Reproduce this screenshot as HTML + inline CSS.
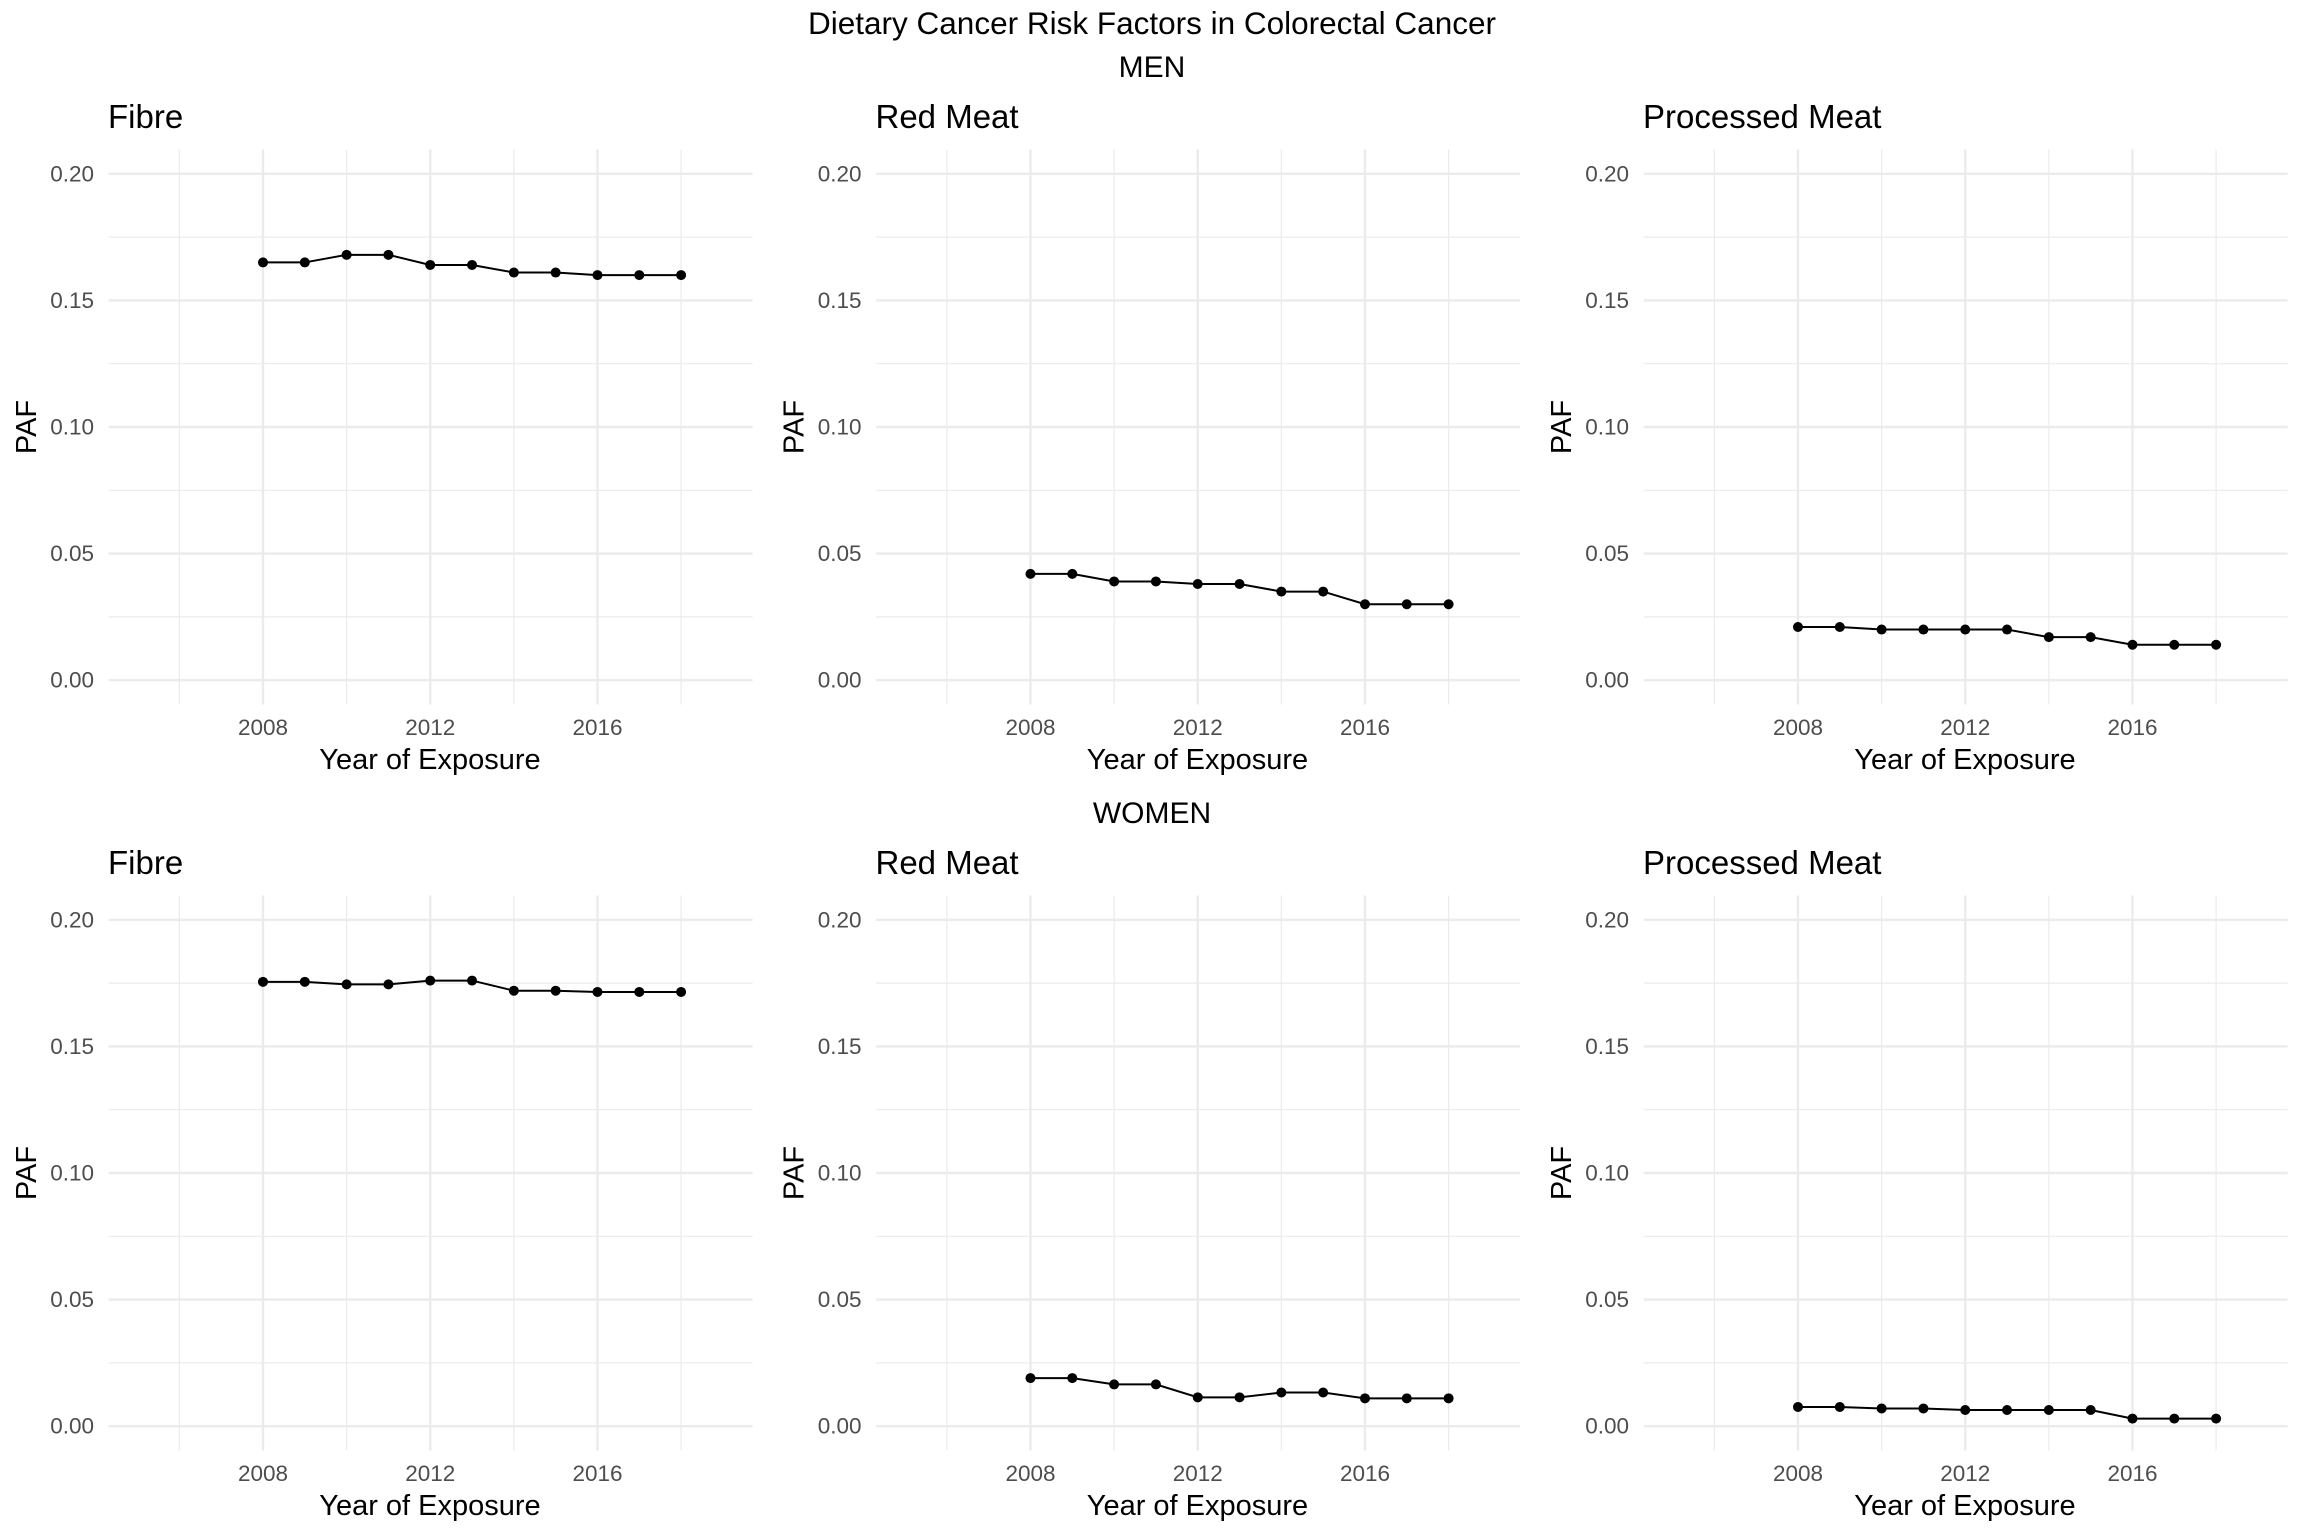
<!DOCTYPE html>
<html><head><meta charset="utf-8"><style>
html,body{margin:0;padding:0;background:#fff;}
svg{display:block;font-family:"Liberation Sans",Arial,sans-serif;}
</style></head><body>
<svg id="chart" width="2304" height="1536" viewBox="0 0 2304 1536" xmlns="http://www.w3.org/2000/svg">
<rect width="2304" height="1536" fill="#fff"/>
<text x="1152" y="34" font-size="31.5" text-anchor="middle" fill="#000">Dietary Cancer Risk Factors in Colorectal Cancer</text>
<text x="1152" y="77" font-size="30" text-anchor="middle" fill="#000">MEN</text>
<text x="1152" y="823" font-size="30" text-anchor="middle" fill="#000">WOMEN</text>
<g id="panels"></g>
</svg>
<script>
const years = [2008,2009,2010,2011,2012,2013,2014,2015,2016,2017,2018];
const panelTitles = ["Fibre","Red Meat","Processed Meat"];
const menFibre = [0.165,0.165,0.168,0.168,0.164,0.164,0.161,0.161,0.160,0.160,0.160];
const menRedMeat = [0.042,0.042,0.039,0.039,0.038,0.038,0.035,0.035,0.030,0.030,0.030];
const menProcessedMeat = [0.021,0.021,0.020,0.020,0.020,0.020,0.017,0.017,0.014,0.014,0.014];
const womenFibre = [0.1755,0.1755,0.1745,0.1745,0.176,0.176,0.172,0.172,0.1715,0.1715,0.1715];
const womenRedMeat = [0.019,0.019,0.0165,0.0165,0.0114,0.0114,0.0133,0.0133,0.011,0.011,0.011];
const womenProcessedMeat = [0.0076,0.0076,0.007,0.007,0.0064,0.0064,0.0064,0.0064,0.003,0.003,0.003];
const yTicks = [0,0.05,0.10,0.15,0.20];
const yTickLabels = ["0.00","0.05","0.10","0.15","0.20"];
const yMinor = [0.025,0.075,0.125,0.175];
const xTicks = [2008,2012,2016];
const xMinor = [2006,2010,2014,2018];

const series = [[menFibre,menRedMeat,menProcessedMeat],[womenFibre,womenRedMeat,womenProcessedMeat]];
const NS="http://www.w3.org/2000/svg";
const root=document.getElementById('panels');
function mk(tag,attrs,parent){const e=document.createElementNS(NS,tag);for(const k in attrs)e.setAttribute(k,attrs[k]);parent.appendChild(e);return e;}
const colOff=[0,767.5,1535], rowOff=[0,746];
const PL=108.7, PR=752.6, PT=149.5, PB=704.5;
const xMin=2004.31, xMax=2019.71, yMin=-0.0096, yMax=0.2096;
const sexNames=["men","women"];
for(let r=0;r<2;r++)for(let c=0;c<3;c++){
  const ox=colOff[c], oy=rowOff[r];
  const X=v=>ox+PL+(v-xMin)/(xMax-xMin)*(PR-PL);
  const Y=v=>oy+PB-(v-yMin)/(yMax-yMin)*(PB-PT);
  const g=mk('g',{},root);
  
  
  yMinor.forEach(v=>mk('line',{x1:ox+PL,x2:ox+PR,y1:Y(v),y2:Y(v),stroke:'#ebebeb','stroke-width':1.2},g));
  xMinor.forEach(v=>mk('line',{x1:X(v),x2:X(v),y1:oy+PT,y2:oy+PB,stroke:'#ebebeb','stroke-width':1.2},g));
  yTicks.forEach(v=>mk('line',{x1:ox+PL,x2:ox+PR,y1:Y(v),y2:Y(v),stroke:'#ebebeb','stroke-width':2.4},g));
  xTicks.forEach(v=>mk('line',{x1:X(v),x2:X(v),y1:oy+PT,y2:oy+PB,stroke:'#ebebeb','stroke-width':2.4},g));
  yTicks.forEach((v,i)=>{const t=mk('text',{x:ox+94,y:Y(v)+7.5,'font-size':22.5,'text-anchor':'end',fill:'#4d4d4d'},g);t.textContent=yTickLabels[i];
    });
  xTicks.forEach(v=>{const t=mk('text',{x:X(v),y:oy+735,'font-size':22.5,'text-anchor':'middle',fill:'#4d4d4d'},g);t.textContent=String(v);
    });
  const xt=mk('text',{x:ox+430,y:oy+769,'font-size':29,'text-anchor':'middle',fill:'#000'},g);xt.textContent='Year of Exposure';
  
  const yc=oy+(PT+PB)/2;
  const yt=mk('text',{x:ox+36,y:yc,'font-size':29,'text-anchor':'middle',fill:'#000',transform:`rotate(-90 ${ox+36} ${yc})`},g);yt.textContent='PAF';
  
  const pt=mk('text',{x:ox+108,y:oy+128,'font-size':33,fill:'#000'},g);pt.textContent=panelTitles[c];
  
  const vals=series[r][c];
  const line=mk('polyline',{points:years.map((y,i)=>X(y)+','+Y(vals[i])).join(' '),fill:'none',stroke:'#000','stroke-width':2},g);
  
  years.forEach((y,i)=>{const p=mk('circle',{cx:X(y),cy:Y(vals[i]),r:5,fill:'#000'},g);
    });
}
</script>
</body></html>
